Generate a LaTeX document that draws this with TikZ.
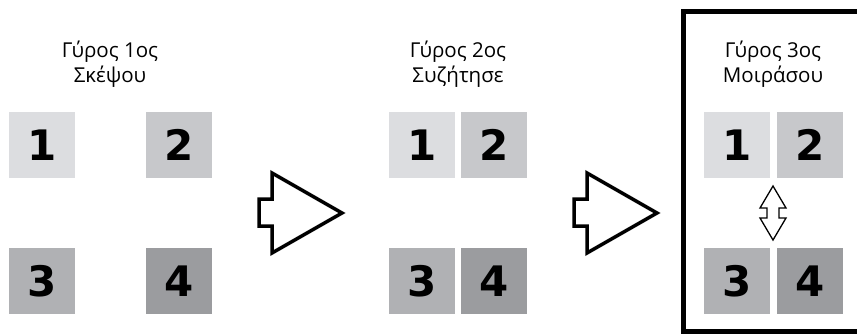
\documentclass[tikz,border=0pt]{standalone}
\usepackage{fontspec}
\setmainfont{Open Sans}
\newfontfamily\digitfont{DejaVu Sans}
\definecolor{cA}{RGB}{220,221,224}
\definecolor{cB}{RGB}{199,200,203}
\definecolor{cC}{RGB}{176,177,180}
\definecolor{cD}{RGB}{155,156,159}
\begin{document}
\begin{tikzpicture}[x=1pt,y=-1pt,
  sq/.style={minimum size=66pt, inner sep=0pt, font=\digitfont\bfseries\fontsize{42}{42}\selectfont},
  ttl/.style={anchor=base, inner sep=0pt, font=\fontsize{20.5}{24}\selectfont, text=black},
  bigarrow/.style={draw=black, line width=3.5pt, miter limit=10, fill=white},
  smallarrow/.style={draw=black, line width=1.3pt, fill=white}]
\useasboundingbox (0,0) rectangle (857,333);
\clip (0,0) rectangle (857,333);
% panel 1
\node[ttl] (t1a) at (110,57) {Γύρος 1ος};
\node[ttl] (t1b) at (110,82) {Σκέψου};
\node[sq, fill=cA] (p1a) at (42,145) {1};
\node[sq, fill=cB] (p1b) at (179,145) {2};
\node[sq, fill=cC] (p1c) at (42,281) {3};
\node[sq, fill=cD] (p1d) at (179,281) {4};
% arrow 1
\draw[bigarrow] (272,173) -- (342,213) -- (272,253) -- (272,226) -- (259,226) -- (259,199) -- (272,199) -- cycle;
% panel 2
\node[ttl] (t2a) at (458,57) {Γύρος 2ος};
\node[ttl] (t2b) at (458,82) {Συζήτησε};
\node[sq, fill=cA] (p2a) at (422,145) {1};
\node[sq, fill=cB] (p2b) at (494,145) {2};
\node[sq, fill=cC] (p2c) at (422,281) {3};
\node[sq, fill=cD] (p2d) at (494,281) {4};
% arrow 2
\draw[bigarrow] (587,173) -- (657,213) -- (587,253) -- (587,226) -- (574,226) -- (574,199) -- (587,199) -- cycle;
% panel 3
\draw[line width=5pt] (683.5,11.5) rectangle (880,331.5);
\node[ttl] (t3a) at (773,57) {Γύρος 3ος};
\node[ttl] (t3b) at (773,82) {Μοιράσου};
\node[sq, fill=cA] (p3a) at (737,145) {1};
\node[sq, fill=cB] (p3b) at (810,145) {2};
\node[sq, fill=cC] (p3c) at (737,281) {3};
\node[sq, fill=cD] (p3d) at (810,281) {4};
\draw[smallarrow] (773,186) -- (786,208) -- (779,208) -- (779,218) -- (786,218) -- (773,240) -- (760,218) -- (767,218) -- (767,208) -- (760,208) -- cycle;
\end{tikzpicture}
\end{document}
